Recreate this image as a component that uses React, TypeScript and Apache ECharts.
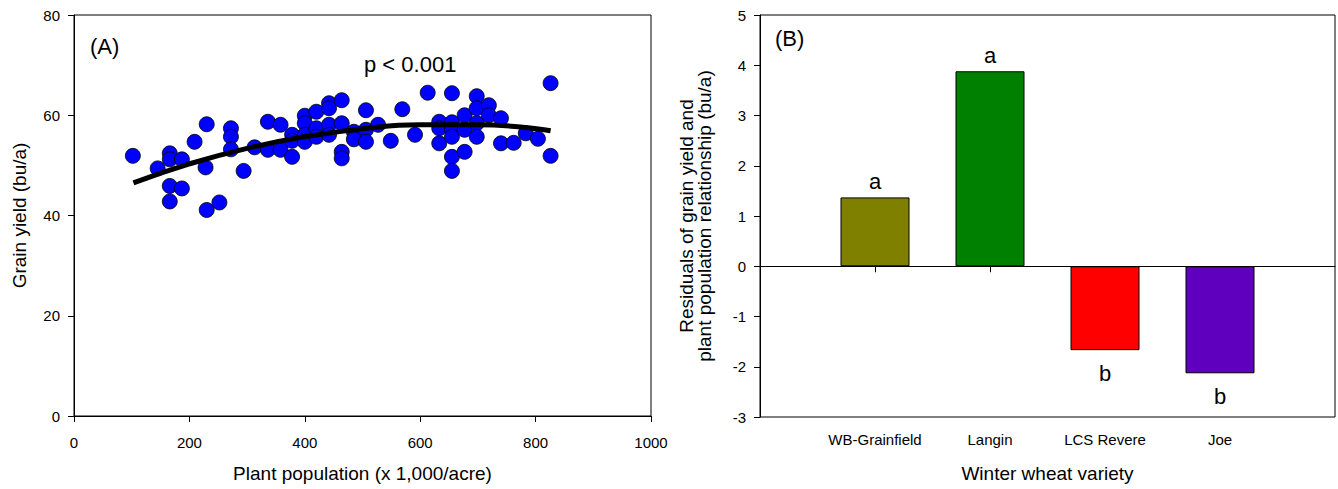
import React, { useEffect, useRef } from "react";
import * as echarts from "echarts";

// Panel A: plant population (x 1,000/acre) and grain yield (bu/a)
const populations = [
  102, 145, 166, 166, 187, 209, 230, 228, 166, 187, 166, 230, 252, 272, 272, 272, 294, 313, 336, 336,
  358, 358, 378, 378, 378, 400, 400, 400, 400, 420, 420, 420, 442, 442, 442, 442, 464, 464, 464, 464,
  485, 485, 506, 506, 506, 527, 549, 569, 591, 613, 633, 633, 633, 655, 655, 655, 655, 655, 655, 677,
  677, 677, 698, 698, 698, 698, 719, 719, 740, 740, 762, 783, 804, 826, 826,
];
const yields = [
  51.9, 49.4, 52.4, 51.2, 51.2, 54.7, 58.2, 49.6, 45.9, 45.4, 42.8, 41.1, 42.6, 57.4, 55.7, 53.2, 48.9, 53.6, 58.7, 53.1,
  58.1, 53.1, 56.1, 54.9, 51.7, 59.9, 58.4, 56.1, 54.7, 60.7, 57.4, 55.7, 62.4, 61.4, 58.1, 56.1, 63.0, 58.4, 52.7, 51.4,
  56.7, 55.2, 61.0, 57.1, 54.7, 58.1, 54.9, 61.2, 56.1, 64.5, 58.7, 57.4, 54.4, 64.4, 58.6, 57.1, 55.7, 51.7, 48.9, 60.0,
  57.1, 52.7, 63.8, 61.4, 58.4, 55.7, 62.0, 60.0, 59.4, 54.4, 54.5, 56.4, 55.3, 66.4, 51.9,
];
// Fitted curve
const fitX = [103, 200, 300, 400, 500, 600, 700, 826];
const fitY = [46.5, 50.3, 53.4, 55.7, 57.3, 58.1, 58.1, 56.9];

// Panel B: residuals by variety
const varieties = ["WB-Grainfield", "Langin", "LCS Revere", "Joe"];
const residuals = [1.37, 3.88, -1.67, -2.13];
const letters = ["a", "a", "b", "b"];
const barColors = ["#808000", "#008000", "#FF0000", "#5F00BF"];

const FONT = "Arial, 'Liberation Sans', sans-serif";

export default function App() {
  const ref = useRef<HTMLDivElement>(null);
  useEffect(() => {
    if (!ref.current) return;
    const chart = echarts.init(ref.current, null, { renderer: "svg" });
    const scatterData = populations.map((x, i) => [x, yields[i]]);
    const fitData = fitX.map((x, i) => [x, fitY[i]]);
    const catsPadded = ["", ...varieties, ""];
    const barData: any[] = [null];
    residuals.forEach((v, i) => {
      barData.push({
        value: v,
        itemStyle: { color: barColors[i], borderColor: "#000", borderWidth: 1 },
        label: {
          show: true,
          position: v >= 0 ? "top" : "bottom",
          distance: v >= 0 ? 5 : 12,
          formatter: letters[i],
          fontSize: 22,
          color: "#000",
          fontFamily: FONT,
        },
      });
    });
    barData.push(null);

    const axisLabel = { color: "#000", fontSize: 15, fontFamily: FONT };
    const nameStyle = { color: "#000", fontSize: 19, fontFamily: FONT };
    const axisLine = { show: true, lineStyle: { color: "#000", width: 1 } };
    const axisTick = { show: true, inside: false, length: 6, lineStyle: { color: "#000" } };

    chart.setOption({
      animation: false,
      grid: [
        { left: 74, top: 15, width: 577, height: 401, show: true, borderColor: "#000", borderWidth: 1, backgroundColor: "transparent" },
        { left: 760, top: 15, width: 576, height: 402, show: true, borderColor: "#000", borderWidth: 1, backgroundColor: "transparent" },
      ],
      xAxis: [
        {
          gridIndex: 0, type: "value", min: 0, max: 1000, interval: 200,
          axisLine, axisTick, splitLine: { show: false },
          axisLabel: { ...axisLabel, margin: 19, formatter: (v: number) => String(v) },
          name: "Plant population (x 1,000/acre)", nameLocation: "middle", nameGap: 48, nameTextStyle: nameStyle,
        },
        {
          gridIndex: 1, type: "category", data: catsPadded, boundaryGap: false,
          axisLine, splitLine: { show: false },
          axisTick: { ...axisTick, interval: (i: number) => i >= 1 && i <= 4 },
          axisLabel: { ...axisLabel, margin: 15, interval: 0 },
          name: "Winter wheat variety", nameLocation: "middle", nameGap: 47, nameTextStyle: nameStyle,
        },
      ],
      yAxis: [
        {
          gridIndex: 0, type: "value", min: 0, max: 80, interval: 20,
          axisLine, axisTick, splitLine: { show: false },
          axisLabel: { ...axisLabel, margin: 14 },
          name: "Grain yield (bu/a)", nameLocation: "middle", nameGap: 45, nameTextStyle: nameStyle,
        },
        {
          gridIndex: 1, type: "value", min: -3, max: 5, interval: 1,
          axisLine, axisTick, splitLine: { show: false },
          axisLabel: { ...axisLabel, margin: 14 },
          name: "Residuals of grain yield and\nplant population relationship (bu/a)",
          nameLocation: "middle", nameGap: 47, nameTextStyle: { ...nameStyle, lineHeight: 18 },
        },
      ],
      series: [
        {
          type: "scatter", xAxisIndex: 0, yAxisIndex: 0, data: scatterData,
          symbol: "circle", symbolSize: 15,
          itemStyle: { color: "#0000FF", borderColor: "#000", borderWidth: 0.8, opacity: 1 },
          z: 2,
        },
        {
          type: "line", xAxisIndex: 0, yAxisIndex: 0, data: fitData, smooth: true,
          showSymbol: false, symbol: "none",
          lineStyle: { color: "#000", width: 5 },
          z: 3,
        },
        {
          type: "bar", xAxisIndex: 1, yAxisIndex: 1, data: barData, barWidth: 69,
          markLine: {
            silent: true, symbol: "none", label: { show: false },
            lineStyle: { color: "#000", width: 1, type: "solid" },
            data: [{ yAxis: 0 }],
          },
        },
      ],
      graphic: [
        { type: "text", left: 90, top: 35, style: { text: "(A)", fontSize: 22, fontFamily: FONT, fill: "#000" } },
        { type: "text", left: 364, top: 53, style: { text: "p < 0.001", fontSize: 22, fontFamily: FONT, fill: "#000" } },
        { type: "text", left: 775, top: 27, style: { text: "(B)", fontSize: 22, fontFamily: FONT, fill: "#000" } },
      ],
    });
    return () => chart.dispose();
  }, []);
  return (
    <div
      ref={ref}
      style={{ position: "fixed", left: 0, top: 0, width: 1338, height: 489, background: "#fff" }}
    />
  );
}
